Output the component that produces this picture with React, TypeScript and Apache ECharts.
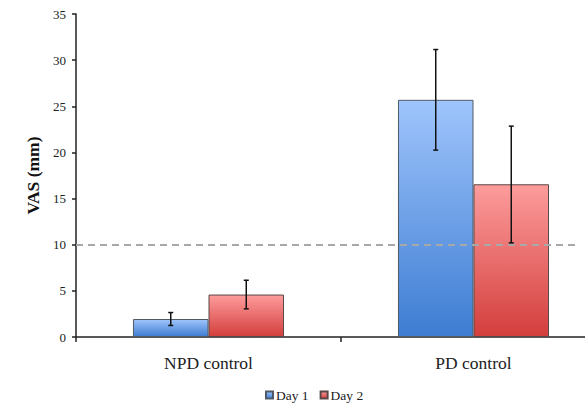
import React, { useEffect, useRef } from "react";
import * as echarts from "echarts";

// Visual analogue scale scores by group and day
const categories = ["NPD control", "PD control"];
const seriesNames = ["Day 1", "Day 2"];
const day1Values = [1.95, 25.7];
const day2Values = [4.6, 16.55];
// error bar extents [low, high]
const day1Errors = [
  [1.25, 2.65],
  [20.25, 31.15],
];
const day2Errors = [
  [3.05, 6.15],
  [10.2, 22.85],
];
const yTicks = [0, 35, 5]; // min, max, interval
const thresholdValue = 10;

const FONT = "Liberation Serif";
const BAR_FRAC = 0.285;

function grad(top: string, bottom: string) {
  return new echarts.graphic.LinearGradient(0, 0, 0, 1, [
    { offset: 0, color: top },
    { offset: 1, color: bottom },
  ]);
}

function errorSeries(errs: number[][], side: number) {
  return {
    type: "custom",
    silent: true,
    z: 5,
    data: errs.map((e, i) => [i, e[0], e[1]]),
    encode: { x: 0, y: [1, 2] },
    renderItem: (params: any, api: any) => {
      const i = api.value(0);
      const lo = api.coord([i, api.value(1)]);
      const hi = api.coord([i, api.value(2)]);
      const catW = api.size([1, 0])[0];
      const x = lo[0] + (side * catW * BAR_FRAC) / 2;
      const cap = 2.5;
      const style = { stroke: "#111", lineWidth: 1.5 };
      return {
        type: "group",
        children: [
          { type: "line", shape: { x1: x, y1: lo[1], x2: x, y2: hi[1] }, style },
          { type: "line", shape: { x1: x - cap, y1: lo[1], x2: x + cap, y2: lo[1] }, style },
          { type: "line", shape: { x1: x - cap, y1: hi[1], x2: x + cap, y2: hi[1] }, style },
        ],
      };
    },
  };
}

export default function App() {
  const ref = useRef<HTMLDivElement>(null);

  useEffect(() => {
    if (!ref.current) return;
    const chart = echarts.init(ref.current, null, { renderer: "svg" });
    chart.setOption({
      animation: false,
      backgroundColor: "#ffffff",
      textStyle: { fontFamily: FONT },
      grid: { left: 76, top: 14, width: 530, height: 323, outerBoundsMode: "none" },
      legend: {
        data: seriesNames,
        left: 265,
        bottom: 2,
        padding: 0,
        itemWidth: 7,
        itemHeight: 7,
        itemGap: 11,
        icon: "rect",
        textStyle: {
          fontFamily: FONT,
          fontSize: 13.5,
          color: "#222",
          padding: [0, 0, 0, -2],
        },
      },
      xAxis: {
        type: "category",
        data: categories,
        axisLine: { lineStyle: { color: "#222", width: 1.5 } },
        axisTick: { show: true, length: 5, lineStyle: { color: "#222", width: 1.5 } },
        axisLabel: { fontFamily: FONT, fontSize: 17.5, color: "#222", margin: 17 },
      },
      yAxis: {
        type: "value",
        min: yTicks[0],
        max: yTicks[1],
        interval: yTicks[2],
        name: "VAS (mm)",
        nameLocation: "middle",
        nameGap: 34,
        nameTextStyle: { fontFamily: FONT, fontSize: 17.5, fontWeight: "bold", color: "#111" },
        axisLine: { show: true, lineStyle: { color: "#222", width: 1.5 } },
        axisTick: { show: true, length: 4, lineStyle: { color: "#222", width: 1.5 } },
        axisLabel: { fontFamily: FONT, fontSize: 13, color: "#222", margin: 10 },
        splitLine: { show: false },
      },
      series: [
        {
          name: seriesNames[0],
          type: "bar",
          data: day1Values,
          barWidth: `${BAR_FRAC * 100}%`,
          barGap: "0%",
          itemStyle: {
            color: grad("#9fc5fc", "#3d7cd2"),
            borderColor: "#505a66",
            borderWidth: 1,
          },
          markLine: {
            silent: true,
            symbol: "none",
            label: { show: false },
            lineStyle: { color: "#a8a8a8", width: 2, type: [7, 5] },
            data: [
              [
                { coord: [-0.5, thresholdValue], x: 76 },
                { coord: [1.5, thresholdValue], x: 575 },
              ],
            ],
          },
        },
        {
          name: seriesNames[1],
          type: "bar",
          data: day2Values,
          barWidth: `${BAR_FRAC * 100}%`,
          barGap: "0%",
          itemStyle: {
            color: grad("#fd9c9c", "#d33e3c"),
            borderColor: "#5a4848",
            borderWidth: 1,
          },
        },
        errorSeries(day1Errors, -1),
        errorSeries(day2Errors, 1),
      ],
    });
    return () => chart.dispose();
  }, []);

  return (
    <div
      ref={ref}
      style={{ position: "fixed", left: 0, top: 0, width: 585, height: 404 }}
    />
  );
}
